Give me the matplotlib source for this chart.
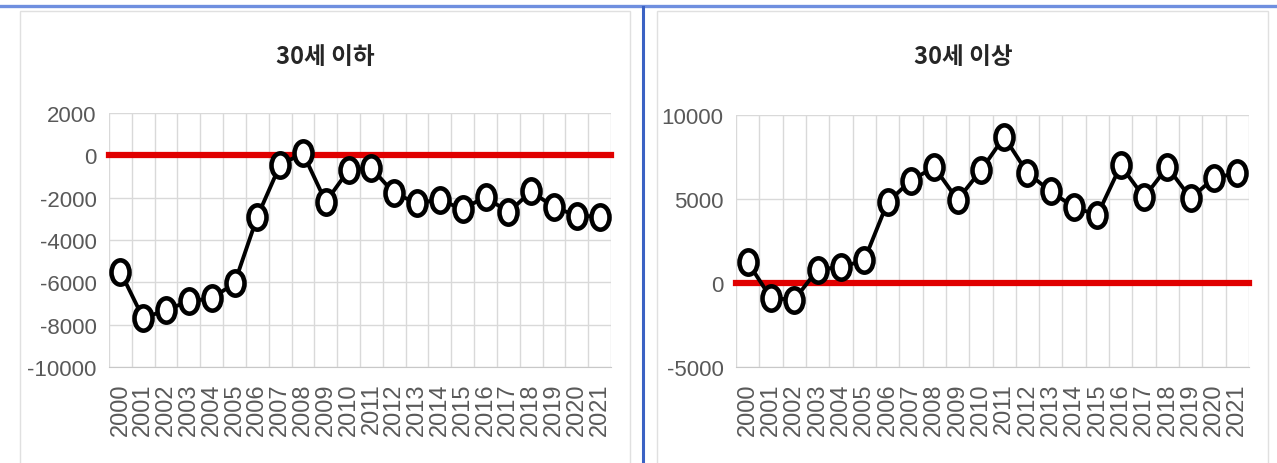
import matplotlib
matplotlib.use('Agg')
import matplotlib.pyplot as plt
from matplotlib.patches import Rectangle
from matplotlib.lines import Line2D
from matplotlib.markers import MarkerStyle
from matplotlib.transforms import Affine2D

plt.rcParams['axes.unicode_minus'] = False

years = [str(y) for y in range(2000, 2022)]

# 30세 이하
under30 = [-5500, -7700, -7300, -6900, -6750, -6050, -2900, -450, 100, -2200,
           -700, -600, -1800, -2250, -2100, -2550, -1950, -2700, -1700, -2450,
           -2850, -2900]

# 30세 이상
over30 = [1250, -900, -1000, 800, 950, 1350, 4800, 6100, 6900, 4950,
          6700, 8700, 6550, 5450, 4500, 4050, 7000, 5100, 6900, 5050,
          6250, 6550]

W, H = 1277, 464
fig = plt.figure(figsize=(W / 100, H / 100), dpi=100)

gray_txt = '#595959'
grid_c = '#d9d9d9'
num_font = ['Liberation Sans', 'DejaVu Sans']
title_font = ['Noto Sans CJK KR', 'DejaVu Sans']

# 바깥 테두리 (파란 선)
fig.add_artist(Line2D([0, 1], [1 - 6.5 / H, 1 - 6.5 / H], color='#6f8fdf', lw=2.4,
                      transform=fig.transFigure))
fig.add_artist(Line2D([643 / W, 643 / W], [0, 1 - 8 / H], color='#3b62c4', lw=2.2,
                      transform=fig.transFigure))

# 패널 박스
for x0, x1 in [(20, 630), (657, 1268)]:
    fig.add_artist(Rectangle((x0 / W, -0.05), (x1 - x0) / W, 1.05 - 12 / H,
                             transform=fig.transFigure, facecolor='white',
                             edgecolor='#e0e0e0', lw=1.0, zorder=0))

ellipse = MarkerStyle('o', transform=Affine2D().scale(0.74, 1.0))


def draw(rect, values, ylim, step, title, title_x):
    ax = fig.add_axes(rect)
    x = list(range(len(years)))
    ax.set_xlim(-0.5, len(years) - 0.5)
    ax.set_ylim(*ylim)
    ax.set_yticks(range(ylim[0], ylim[1] + 1, step))
    ax.set_xticks(x)
    ax.set_xticks([i - 0.5 for i in range(len(years) + 1)], minor=True)
    ax.set_xticklabels(years, rotation=90, fontsize=17, color=gray_txt,
                       family=num_font)
    for lab in ax.get_yticklabels():
        lab.set_fontsize(16)
        lab.set_color(gray_txt)
        lab.set_family(num_font)
    ax.tick_params(axis='both', which='both', length=0)
    ax.tick_params(axis='x', pad=11)
    ax.tick_params(axis='y', pad=9)
    ax.grid(axis='y', color=grid_c, lw=1.0)
    ax.grid(axis='x', which='minor', color=grid_c, lw=1.0)
    ax.set_axisbelow(True)
    for s in ['top', 'right', 'left']:
        ax.spines[s].set_visible(False)
    ax.spines['bottom'].set_color('#c8c8c8')
    ax.axhline(0, color='#e00000', lw=4.5, zorder=2, clip_on=False)
    ax.plot(x, values, color='black', lw=2.8, marker=ellipse, markersize=17.5,
            markerfacecolor='white', markeredgecolor='black', markeredgewidth=3.3,
            zorder=3, clip_on=False)
    fig.text(title_x / W, 1 - 57 / H, title, ha='center', va='center',
             fontsize=17, color='#262626', family=title_font, fontweight='bold')
    return ax


draw([109 / W, 1 - 368 / H, 502 / W, 254 / H], under30, (-10000, 2000), 2000,
     '30세 이하', 325)
draw([736 / W, 1 - 368 / H, 513 / W, 252 / H], over30, (-5000, 10000), 5000,
     '30세 이상', 963)

fig.savefig('out.png', dpi=100)
